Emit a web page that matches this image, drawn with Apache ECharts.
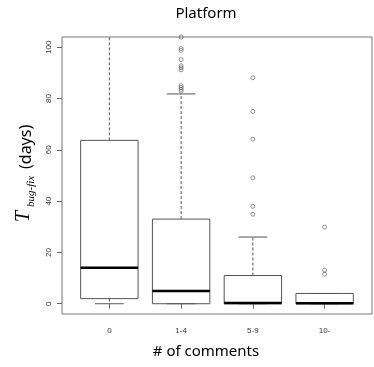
<!DOCTYPE html>
<html>
<head>
<meta charset="utf-8">
<script src="https://cdn.jsdelivr.net/npm/echarts@6/dist/echarts.min.js"></script>
<style>html,body{margin:0;padding:0;background:#fff}#c{width:374px;height:367px}</style>
</head>
<body>
<div id="c"></div>
<script>
// ---- data ----
var categories = ['0', '1-4', '5-9', '10-'];
var whiskerLow = [0, 0, 0, 0];
var q1 = [2, 0, 0, 0];
var median = [14, 5, 0.3, 0.2];
var q3 = [63.7, 33, 11, 4];
var whiskerHigh = [160, 81.8, 26, 4];
var outliers0 = [];
var outliers1 = [104, 99.5, 98.8, 95.2, 92.8, 92.0, 91.2, 85.0, 84.3, 83.6, 82.9];
var outliers2 = [88.1, 75, 64.2, 49.1, 38, 34.9];
var outliers3 = [29.9, 13.1, 11.5];
var yTicks = [0, 20, 40, 60, 80, 100];
var titleText = 'Platform';
var xTitle = '# of comments';

// ---- build ----
var boxData = categories.map(function (c, i) {
  return [i + 1, whiskerLow[i], q1[i], median[i], q3[i], whiskerHigh[i]];
});
var outlierData = [];
[outliers0, outliers1, outliers2, outliers3].forEach(function (arr, i) {
  arr.forEach(function (v) { outlierData.push([i + 1, v]); });
});

var LINE = '#555';

function renderBox(params, api) {
  var x = api.value(0);
  var lo = api.value(1), a = api.value(2), m = api.value(3), b = api.value(4), hi = api.value(5);
  var cs = params.coordSys;
  var top = cs.y, bot = cs.y + cs.height;
  function cy(v) { var y = api.coord([x, v])[1]; return Math.max(top, Math.min(bot, y)); }
  function inRange(v) { var y = api.coord([x, v])[1]; return y >= top && y <= bot; }
  var cx = api.coord([x, 0])[0];
  var hw = api.size([0.8, 0])[0] / 2;
  var hc = hw / 2;
  var children = [];
  children.push({ type: 'line', shape: { x1: cx, y1: cy(b), x2: cx, y2: cy(hi) },
    style: { stroke: LINE, lineWidth: 1, lineDash: [3, 2] } });
  children.push({ type: 'line', shape: { x1: cx, y1: cy(a), x2: cx, y2: cy(lo) },
    style: { stroke: LINE, lineWidth: 1, lineDash: [3, 2] } });
  if (inRange(hi)) children.push({ type: 'line', shape: { x1: cx - hc, y1: cy(hi), x2: cx + hc, y2: cy(hi) },
    style: { stroke: LINE, lineWidth: 1 } });
  if (inRange(lo)) children.push({ type: 'line', shape: { x1: cx - hc, y1: cy(lo), x2: cx + hc, y2: cy(lo) },
    style: { stroke: LINE, lineWidth: 1 } });
  children.push({ type: 'rect', shape: { x: cx - hw, y: cy(b), width: 2 * hw, height: cy(a) - cy(b) },
    style: { fill: 'none', stroke: LINE, lineWidth: 1 } });
  children.push({ type: 'line', shape: { x1: cx - hw, y1: cy(m), x2: cx + hw, y2: cy(m) },
    style: { stroke: '#000', lineWidth: 2.5 } });
  return { type: 'group', children: children };
}

var chart = echarts.init(document.getElementById('c'), null, { renderer: 'canvas' });
chart.setOption({
  animation: false,
  backgroundColor: '#fff',
  grid: { left: 62, top: 37, width: 310, height: 277, show: true, borderColor: '#777', borderWidth: 1, backgroundColor: 'transparent' },
  xAxis: {
    type: 'value', min: 0.34, max: 4.66,
    axisLine: { show: false },
    splitLine: { show: false },
    axisTick: { show: true, length: 5, customValues: [1, 2, 3, 4], lineStyle: { color: '#666' } },
    axisLabel: {
      customValues: [1, 2, 3, 4], margin: 13, fontSize: 8, color: '#333', fontFamily: 'Liberation Sans',
      formatter: function (v) { return categories[Math.round(v) - 1]; }
    }
  },
  yAxis: {
    type: 'value', min: -4, max: 104,
    axisLine: { show: false },
    splitLine: { show: false },
    axisTick: { show: true, length: 5, customValues: yTicks, lineStyle: { color: '#666' } },
    axisLabel: { customValues: yTicks, rotate: 90, margin: 9, fontSize: 8, color: '#333', fontFamily: 'Liberation Sans' }
  },
  graphic: [
    { type: 'text', x: 206, y: 14, style: { text: titleText, font: '15px "Noto Sans"', fill: '#000', align: 'center', verticalAlign: 'middle' } },
    { type: 'text', x: 206, y: 352, style: { text: xTitle, font: '15px "Noto Sans"', fill: '#000', align: 'center', verticalAlign: 'middle' } },
    {
      type: 'group', x: 25, y: 222, rotation: Math.PI / 2,
      children: [
        { type: 'text', x: 0, y: -1, style: { text: 'T', font: 'italic 20px "Liberation Serif"', fill: '#000', verticalAlign: 'middle', align: 'left' } },
        { type: 'text', x: 15, y: 6, style: { text: 'bug-fix', font: 'italic 11px "Liberation Serif"', fill: '#000', verticalAlign: 'middle', align: 'left' } },
        { type: 'text', x: 53, y: 1, style: { text: '(days)', font: '16px "Noto Sans"', fill: '#000', verticalAlign: 'middle', align: 'left' } }
      ]
    }
  ],
  series: [
    { type: 'custom', renderItem: renderBox, data: boxData, encode: { x: 0, y: [1, 2, 3, 4, 5] }, clip: true },
    { type: 'scatter', data: outlierData, symbol: 'circle', symbolSize: 4, clip: true,
      itemStyle: { color: 'rgba(0,0,0,0)', borderColor: '#555', borderWidth: 0.8 } }
  ]
});
</script>
</body>
</html>
